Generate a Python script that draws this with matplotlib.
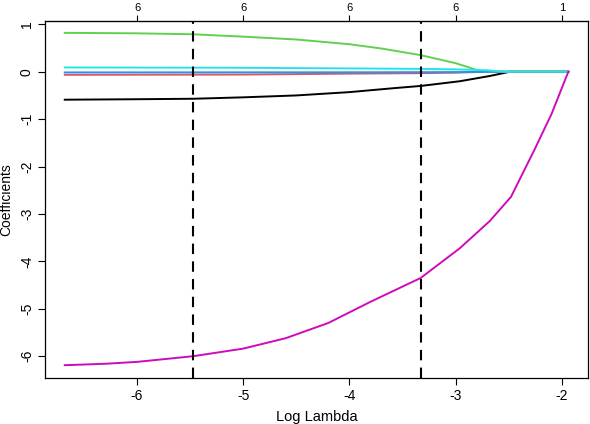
import matplotlib
matplotlib.use("Agg")
import matplotlib.pyplot as plt

plt.rcParams['font.family'] = ['Liberation Sans', 'DejaVu Sans']

# Coefficient paths (log lambda, coefficient)
black_x = [-6.68, -6.0, -5.47, -5.0, -4.5, -4.0, -3.6, -3.33, -2.96, -2.68, -2.49, -1.94]
black_y = [-0.59, -0.58, -0.57, -0.54, -0.50, -0.43, -0.35, -0.30, -0.20, -0.09, 0.0, 0.0]

red_x = [-6.68, -5.0, -4.0, -3.33, -3.0, -2.7, -1.94]
red_y = [-0.065, -0.06, -0.04, -0.03, -0.02, 0.0, 0.0]

green_x = [-6.68, -6.0, -5.47, -5.0, -4.5, -4.0, -3.7, -3.33, -3.0, -2.75, -1.94]
green_y = [0.82, 0.81, 0.79, 0.74, 0.68, 0.58, 0.49, 0.35, 0.18, 0.0, 0.0]

blue_x = [-6.68, -4.0, -3.0, -2.6, -1.94]
blue_y = [-0.015, -0.012, -0.008, 0.0, 0.0]

cyan_x = [-6.68, -5.2, -4.0, -3.33, -3.0, -2.7, -2.55, -1.94]
cyan_y = [0.09, 0.085, 0.07, 0.06, 0.05, 0.03, 0.0, 0.0]

magenta_x = [-6.68, -6.3, -6.0, -5.47, -5.0, -4.6, -4.2, -3.8, -3.33, -2.96, -2.68, -2.48, -2.26, -2.1, -1.94]
magenta_y = [-6.19, -6.16, -6.12, -6.0, -5.84, -5.62, -5.3, -4.85, -4.35, -3.72, -3.15, -2.64, -1.65, -0.9, 0.0]

vlines = [-5.47, -3.33]

x_ticks = [-6, -5, -4, -3, -2]
y_ticks = [1, 0, -1, -2, -3, -4, -5, -6]
top_ticks = [-6, -5, -4, -3, -2]
top_labels = ['6', '6', '6', '6', '1']

series = [
    (black_x, black_y, '#000000'),
    (red_x, red_y, '#DF536B'),
    (green_x, green_y, '#61D04F'),
    (blue_x, blue_y, '#2297E6'),
    (cyan_x, cyan_y, '#28E2E5'),
    (magenta_x, magenta_y, '#CD0BBC'),
]

fig = plt.figure(figsize=(5.9, 4.24), dpi=100)
ax = fig.add_axes([45/590, 46/424, 543/590, 357/424])

for xs, ys, c in series:
    ax.plot(xs, ys, color=c, lw=1.4, solid_joinstyle='round')

for v in vlines:
    ax.axvline(v, color='black', lw=1.5, ls=(0, (5, 3.5)))

ax.set_xlim(-6.866, -1.755)
ax.set_ylim(-6.46, 1.07)

ax.set_xticks(x_ticks)
ax.set_xticklabels([str(t) for t in x_ticks])
ax.set_yticks(y_ticks)
ax.set_yticklabels([str(t) for t in y_ticks], rotation=90, va='center')
ax.tick_params(direction='out', length=5, width=0.8, labelsize=10, pad=3)

for s in ax.spines.values():
    s.set_linewidth(0.9)

ax.set_xlabel('Log Lambda', fontsize=10.5, labelpad=5)
ax.set_ylabel('Coefficients', fontsize=10)
ax.yaxis.set_label_coords(-0.058, 0.5)

top = ax.secondary_xaxis('top')
top.set_xticks(top_ticks)
top.set_xticklabels(top_labels)
top.tick_params(direction='out', length=4, width=0.8, labelsize=8, pad=2)

fig.savefig('out.png', dpi=100)
